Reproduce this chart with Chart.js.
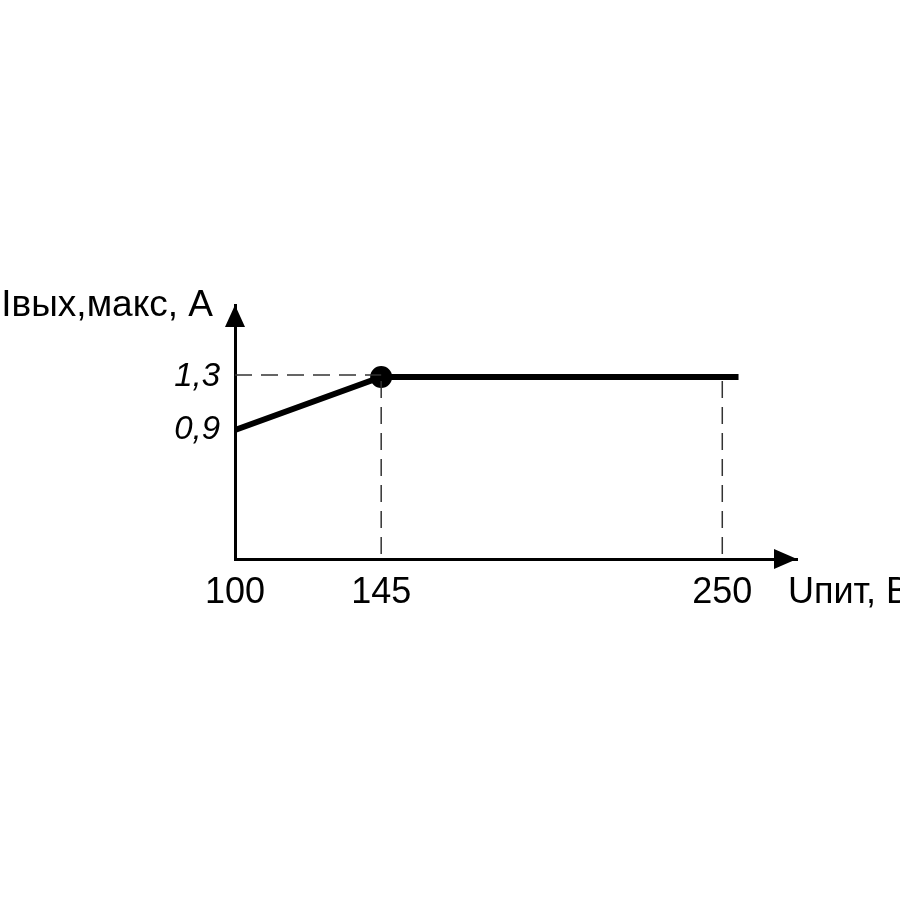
<!DOCTYPE html>
<html>
<head>
    <meta charset="utf-8">
    <script src="https://cdn.jsdelivr.net/npm/chart.js"></script>
    <title>Iвых,макс</title>
    <style>
        html, body { margin: 0; padding: 0; background: #fff; }
        #wrap { width: 900px; height: 900px; }
    </style>
</head>
<body>
    <div id="wrap"><canvas id="chart" width="900" height="900"></canvas></div>

    <script type="text/javascript">
        // данные
        const uPit = [100, 145, 255];
        const iMax = [0.9, 1.3, 1.3];
        const xTicks = [100, 145, 250];
        const yTicks = [0.9, 1.3];
        const kneeIndex = 1;
        // пунктирные выноски от линии к осям
        const guideX = [145, 250];
        const guideY = 1.3;

        const FONT = "'Liberation Sans', Arial, sans-serif";

        const axesPlugin = {
            id: 'axesExtras',
            afterDatasetsDraw(chart) {
                const ctx = chart.ctx;
                const xs = chart.scales.x, ys = chart.scales.y;
                const area = chart.chartArea;
                ctx.save();

                // пунктир
                ctx.strokeStyle = '#333';
                ctx.lineWidth = 1.5;
                ctx.setLineDash([17, 9]);
                const yy = ys.getPixelForValue(guideY);
                ctx.beginPath();
                ctx.moveTo(area.left, yy - 2);
                ctx.lineTo(xs.getPixelForValue(guideX[0]), yy - 2);
                guideX.forEach(v => {
                    const px = xs.getPixelForValue(v);
                    ctx.moveTo(px, yy + 4);
                    ctx.lineTo(px, area.bottom);
                });
                ctx.stroke();
                ctx.setLineDash([]);

                // стрелки осей
                ctx.fillStyle = '#000';
                ctx.beginPath();
                ctx.moveTo(area.left, area.top);
                ctx.lineTo(area.left - 10, area.top + 22);
                ctx.lineTo(area.left + 10, area.top + 22);
                ctx.closePath();
                ctx.fill();
                ctx.beginPath();
                ctx.moveTo(area.right, area.bottom);
                ctx.lineTo(area.right - 23, area.bottom - 10);
                ctx.lineTo(area.right - 23, area.bottom + 10);
                ctx.closePath();
                ctx.fill();

                // подписи осей
                ctx.font = '37px ' + FONT;
                ctx.textBaseline = 'middle';
                ctx.textAlign = 'right';
                ctx.fillText('Iвых,макс, А', 213, 306);
                ctx.font = '36px ' + FONT;
                ctx.textAlign = 'left';
                ctx.fillText('Uпит, В', 788, 593);
                ctx.restore();
            }
        };

        new Chart(document.getElementById('chart'), {
            type: 'line',
            data: {
                datasets: [{
                    data: uPit.map((u, i) => ({ x: u, y: iMax[i] })),
                    borderColor: '#000',
                    backgroundColor: '#000',
                    borderWidth: 6,
                    borderCapStyle: 'butt',
                    pointRadius: uPit.map((u, i) => i === kneeIndex ? 8 : 0),
                    pointHoverRadius: 0,
                    tension: 0,
                    clip: false
                }]
            },
            options: {
                responsive: false,
                animation: false,
                events: [],
                layout: { padding: { left: 0, top: 305, right: 103, bottom: 0 } },
                plugins: { legend: { display: false }, tooltip: { enabled: false } },
                scales: {
                    x: {
                        type: 'linear',
                        min: 100,
                        max: 273,
                        afterBuildTicks: s => { s.ticks = xTicks.map(v => ({ value: v })); },
                        afterFit: s => { s.height = 341; },
                        grid: { display: false, drawTicks: false },
                        border: { display: true, color: '#000', width: 3 },
                        ticks: {
                            color: '#000',
                            padding: 12,
                            maxRotation: 0,
                            autoSkip: false,
                            font: { family: FONT, size: 36 },
                            callback: v => String(v)
                        }
                    },
                    y: {
                        type: 'linear',
                        min: -0.0736,
                        max: 1.843,
                        afterBuildTicks: s => { s.ticks = yTicks.map(v => ({ value: v })); },
                        afterFit: s => { s.width = 235; },
                        grid: { display: false, drawTicks: false },
                        border: { display: true, color: '#000', width: 3 },
                        ticks: {
                            color: '#000',
                            padding: 15,
                            autoSkip: false,
                            font: { family: FONT, size: 33, style: 'italic' },
                            callback: v => v.toFixed(1).replace('.', ',')
                        }
                    }
                }
            },
            plugins: [axesPlugin]
        });
    </script>
</body>
</html>
